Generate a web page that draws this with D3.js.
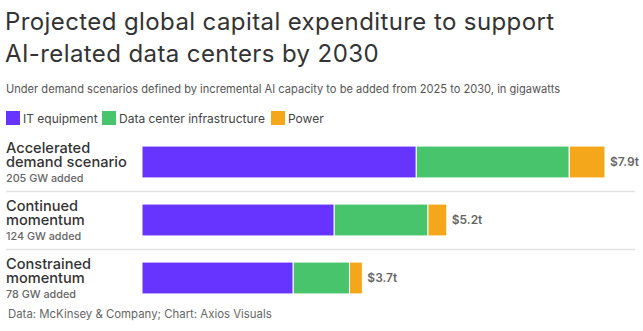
<!DOCTYPE html>
<html>
<head>
<meta charset="utf-8">
<script src="https://cdn.jsdelivr.net/npm/d3@7"></script>
<style>
  body { margin: 0; background: #fff; font-family: Inter, "Noto Sans", sans-serif; }
  svg text { font-family: Inter, "Noto Sans", sans-serif; }
</style>
</head>
<body>
<svg></svg>
<script>
const scenarios = ["Accelerated demand scenario", "Continued momentum", "Constrained momentum"];
const nameLines = [["Accelerated", "demand scenario"], ["Continued", "momentum"], ["Constrained", "momentum"]];
const added = ["205 GW added", "124 GW added", "78 GW added"];
const keys = ["IT equipment", "Data center infrastructure", "Power"];
const itEquipment = [4.68, 3.28, 2.58];
const dcInfra = [2.61, 1.6, 0.96];
const power = [0.61, 0.32, 0.22];
const totals = ["$7.9t", "$5.2t", "$3.7t"];
const colors = ["#6633ff", "#48c46d", "#f5a71c"];

const width = 643, height = 331;
const marginLeft = 142, marginRight = 38;

const rows = scenarios.map((s, i) => ({
  scenario: s,
  "IT equipment": itEquipment[i],
  "Data center infrastructure": dcInfra[i],
  "Power": power[i]
}));

const series = d3.stack().keys(keys)(rows);

const x = d3.scaleLinear()
  .domain([0, 7.9])
  .range([marginLeft, width - marginRight]);

const y = d3.scaleBand()
  .domain(scenarios)
  .range([133, 307])
  .paddingInner(0.45)
  .paddingOuter(0.225);

const color = d3.scaleOrdinal().domain(keys).range(colors);

const svg = d3.select("svg")
  .attr("width", width)
  .attr("height", height)
  .attr("viewBox", [0, 0, width, height]);

// title + subtitle
svg.append("text")
  .attr("x", 5).attr("y", 30)
  .attr("fill", "#333")
  .style("font-size", "24px")
  .style("letter-spacing", "0.4px")
  .selectAll("tspan")
  .data(["Projected global capital expenditure to support", "AI-related data centers by 2030"])
  .join("tspan")
  .attr("x", 5)
  .attr("dy", (d, i) => i ? 32 : 0)
  .text(d => d);

svg.append("text")
  .attr("x", 6).attr("y", 93)
  .attr("fill", "#555")
  .style("font-size", "11.1px")
  .text("Under demand scenarios defined by incremental AI capacity to be added from 2025 to 2030, in gigawatts");

// legend
const legend = svg.append("g").attr("transform", "translate(6,111)");
const legendX = [0, 96, 265];
legend.selectAll("g")
  .data(keys)
  .join("g")
  .attr("transform", (d, i) => `translate(${legendX[i]},0)`)
  .call(g => g.append("rect").attr("width", 14).attr("height", 14).attr("fill", d => color(d)))
  .call(g => g.append("text")
    .attr("x", 17).attr("y", 11.5)
    .attr("fill", "#444")
    .style("font-size", "12px")
    .text(d => d));

// separators
svg.append("g")
  .selectAll("line")
  .data(scenarios.slice(1))
  .join("line")
  .attr("x1", 6).attr("x2", 635)
  .attr("y1", d => Math.round(y(d) - y.step() * y.paddingInner() / 2) + 0.5)
  .attr("y2", d => Math.round(y(d) - y.step() * y.paddingInner() / 2) + 0.5)
  .attr("stroke", "#e3e3e3")
  .attr("stroke-width", 1.5);

// bars
svg.append("g")
  .selectAll("g")
  .data(series)
  .join("g")
  .attr("fill", d => color(d.key))
  .selectAll("rect")
  .data(d => d)
  .join("rect")
  .attr("x", d => x(d[0]))
  .attr("y", d => y(d.data.scenario))
  .attr("width", d => x(d[1]) - x(d[0]))
  .attr("height", y.bandwidth())
  .attr("stroke", "#fff")
  .attr("stroke-width", 1);

// totals
svg.append("g")
  .selectAll("text")
  .data(rows)
  .join("text")
  .attr("x", (d, i) => x(itEquipment[i] + dcInfra[i] + power[i]) + 5)
  .attr("y", d => y(d.scenario) + y.bandwidth() / 2 + 4)
  .attr("fill", "#666")
  .style("font-size", "12px")
  .style("font-weight", "600")
  .text((d, i) => totals[i]);

// category labels
const labels = svg.append("g")
  .selectAll("g")
  .data(scenarios)
  .join("g")
  .attr("transform", d => `translate(6,${y(d)})`);

labels.append("text")
  .attr("fill", "#333")
  .style("font-size", "14.6px")
  .style("font-weight", "500")
  .selectAll("tspan")
  .data((d, i) => nameLines[i])
  .join("tspan")
  .attr("x", 0)
  .attr("y", (d, i) => 7 + i * 14)
  .text(d => d);

labels.append("text")
  .attr("x", 0).attr("y", 35.5)
  .attr("fill", "#666")
  .style("font-size", "10.8px")
  .style("font-weight", "500")
  .text((d, i) => added[i]);

// footer
svg.append("text")
  .attr("x", 8).attr("y", 318)
  .attr("fill", "#666")
  .style("font-size", "11.4px")
  .text("Data: McKinsey & Company; Chart: Axios Visuals");
</script>
</body>
</html>
